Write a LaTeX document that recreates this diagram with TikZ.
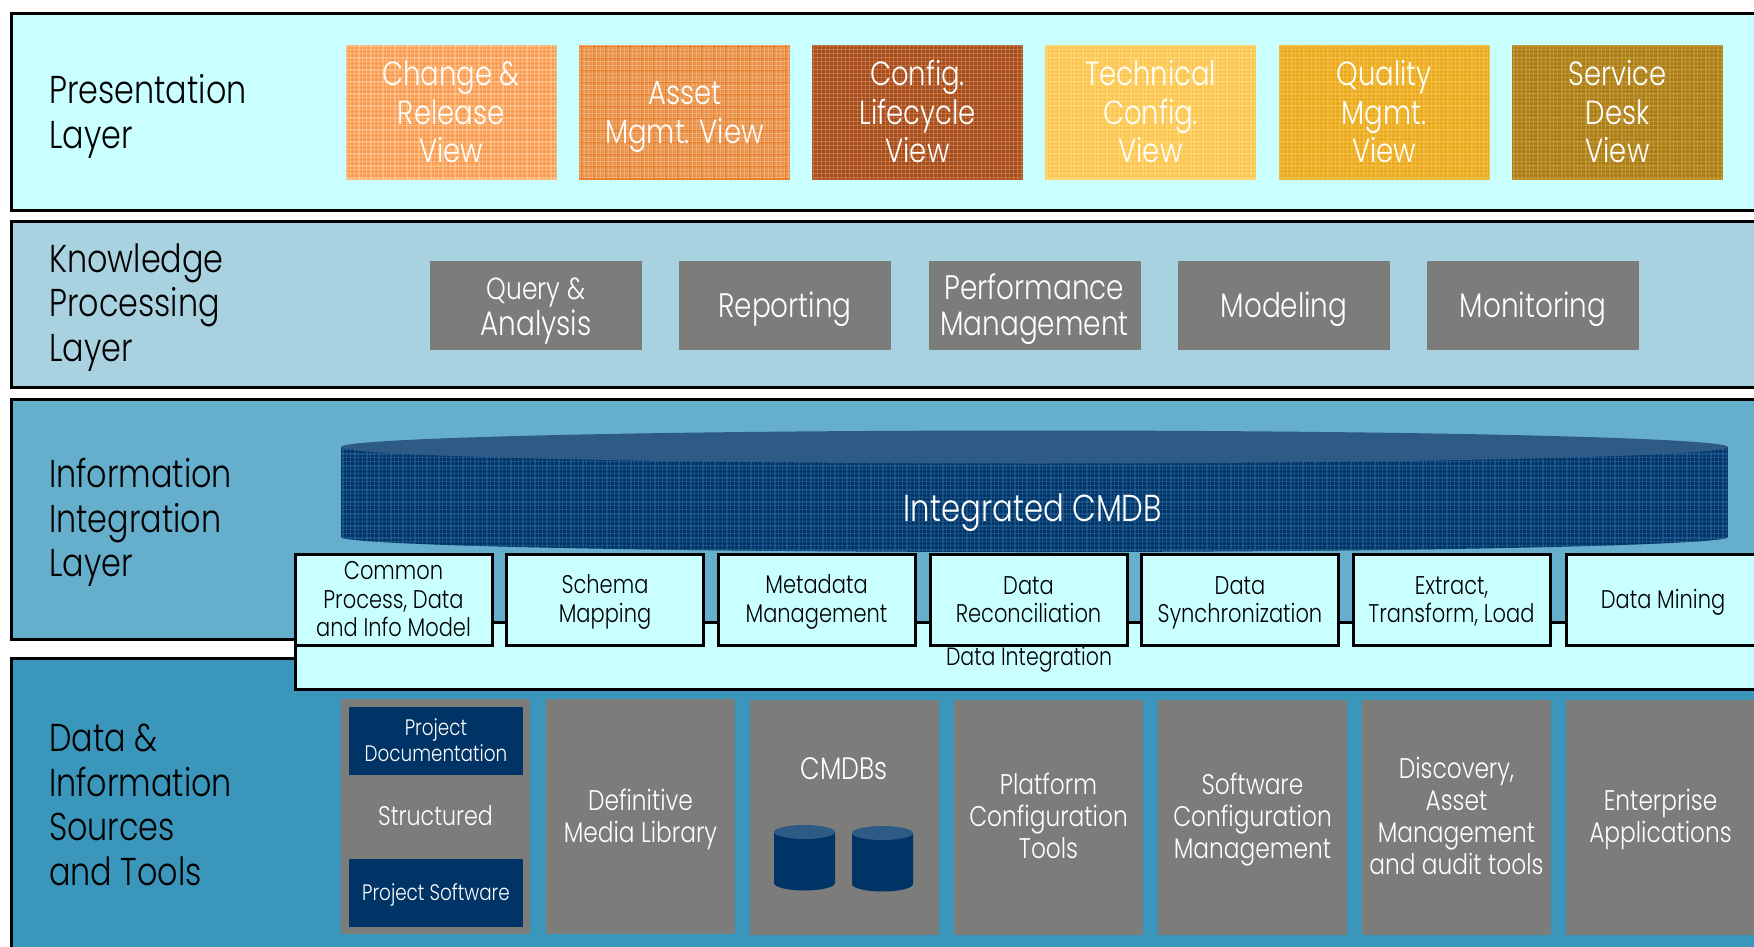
\documentclass[tikz,border=0pt]{standalone}
\usepackage{fontspec}
\setmainfont{Poppins Light}[FakeStretch=0.82]
\definecolor{lpres}{HTML}{C9FFFF}
\definecolor{lknow}{HTML}{A9D2E1}
\definecolor{linfo}{HTML}{66AFCC}
\definecolor{ldata}{HTML}{3A96BA}
\definecolor{gbox}{HTML}{7C7C7A}
\definecolor{navy}{HTML}{003366}
\definecolor{navytop}{HTML}{2E5A86}
\definecolor{aBase}{HTML}{FA9A50}\definecolor{aFine}{HTML}{FFDDB0}\definecolor{aBold}{HTML}{FFD0A0}
\definecolor{bBase}{HTML}{E9934C}\definecolor{bFine}{HTML}{F6C597}\definecolor{bBold}{HTML}{EE6A10}
\definecolor{cBase}{HTML}{A64A1A}\definecolor{cFine}{HTML}{D8A27C}\definecolor{cBold}{HTML}{C06020}
\definecolor{dBase}{HTML}{FCC44E}\definecolor{dFine}{HTML}{FFE88F}\definecolor{dBold}{HTML}{FFDD80}
\definecolor{eBase}{HTML}{EAA81C}\definecolor{eFine}{HTML}{F8D468}\definecolor{eBold}{HTML}{F4C040}
\definecolor{fBase}{HTML}{AE7A12}\definecolor{fFine}{HTML}{C8B468}\definecolor{fBold}{HTML}{C89A30}
\definecolor{gFine}{HTML}{3573A8}\definecolor{gBold}{HTML}{2A6598}
\newcommand{\fs}[2]{\fontsize{#1}{#2}\selectfont}
\newcommand{\tp}{\rule{0pt}{.95em}}
% mesh texture: left x, top y, width, height, fine colour, bold colour
\newcommand{\meshlines}[6]{%
  \foreach \i in {0,4,...,#3} \draw[#5,opacity=.45,line width=1pt] (#1+\i+1,#2) -- (#1+\i+1,#2+#4);
  \foreach \j in {0,4,...,#4} \draw[#5,opacity=.45,line width=1pt] (#1,#2+\j+1) -- (#1+#3,#2+\j+1);
  \foreach \i in {0,12,...,#3} \draw[#6,opacity=.55,line width=1pt] (#1+\i+2,#2) -- (#1+\i+2,#2+#4);
  \foreach \j in {0,12,...,#4} \draw[#6,opacity=.55,line width=1pt] (#1,#2+\j+2) -- (#1+#3,#2+\j+2);
}
\newcommand{\meshview}[4]{%
  \begin{scope}
    \clip (#1,45) rectangle (#1+211,180);
    \fill[#2] (#1,45) rectangle (#1+211,180);
    \meshlines{#1}{45}{211}{135}{#3}{#4}
  \end{scope}}
\tikzset{
  x=1pt,y=-1pt,
  layerbox/.style={draw=black,line width=3pt},
  lab/.style={anchor=west,align=left,text=black,inner sep=0pt,font=\fs{38.8}{44.5}},
  evenstrut/.style={execute at begin node={\rule{0pt}{.95em}},execute at end node={\rule[-.25em]{0pt}{.25em}}},
  viewtext/.style={evenstrut,minimum width=211pt,minimum height=135pt,inner sep=0pt,
    text=white,align=center,font=\fs{33.5}{38.5}},
  proc/.style={evenstrut,fill=gbox,minimum width=212pt,minimum height=89pt,inner sep=0pt,text=white,align=center,font=\fs{34}{36}},
  rowbox/.style={evenstrut,draw=black,line width=3pt,fill=lpres,minimum width=197pt,minimum height=91pt,inner sep=0pt,
    text=black,align=center,font=\fs{25.6}{28.5}},
  src/.style={evenstrut,fill=gbox,minimum width=189pt,minimum height=235pt,inner sep=0pt,text=white,align=center,font=\fs{28.4}{32}},
  navybox/.style={evenstrut,fill=navy,minimum width=174pt,minimum height=68pt,inner sep=0pt,text=white,align=center,font=\fs{22.4}{26}},
  plain/.style={inner sep=0pt,align=center},
  can/.style={fill=navy},
  cantop/.style={fill=navytop}
}
\begin{document}
\begin{tikzpicture}
\useasboundingbox (0,0) rectangle (1754,947);
\clip (0,0) rectangle (1754,947);
\fill[white] (0,0) rectangle (1754,947);
% layers
\draw[layerbox,fill=lpres] (11.5,14) rectangle (1775,210);
\draw[layerbox,fill=lknow] (11.5,221) rectangle (1775,387);
\draw[layerbox,fill=linfo] (11.5,399) rectangle (1775,639.5);
\draw[layerbox,fill=ldata] (11.5,658.5) rectangle (1775,965);
\node[lab] (lp) at (49,116.5) {Presentation\\Layer};
\node[lab] (lk) at (49,307.5) {Knowledge\\Processing\\Layer};
\node[lab] (li) at (49,522.5) {Information\\Integration\\Layer};
\node[lab] (ld) at (49,805) {Data \&\\Information\\Sources\\and Tools};
% views
\meshview{345.5}{aBase}{aFine}{aBold}
\meshview{579}{bBase}{bFine}{bBold}
\meshview{812}{cBase}{cFine}{cBold}
\meshview{1045}{dBase}{dFine}{dBold}
\meshview{1278.5}{eBase}{eFine}{eBold}
\meshview{1512}{fBase}{fFine}{fBold}
\node[viewtext] (v1) at (451,112.5) {\tp Change \&\\Release\\View};
\node[viewtext] (v2) at (684.5,112.5) {\tp Asset\\Mgmt. View};
\node[viewtext] (v3) at (917.5,112.5) {\tp Config.\\Lifecycle\\View};
\node[viewtext] (v4) at (1150.5,112.5) {\tp Technical\\Config.\\View};
\node[viewtext] (v5) at (1384,112.5) {\tp Quality\\Mgmt.\\View};
\node[viewtext] (v6) at (1617.5,112.5) {\tp Service\\Desk\\View};
% processing
\node[proc] (p1) at (536,305.5) {\tp{\fs{30.5}{36}Query \&}\\Analysis};
\node[proc] (p2) at (785,305.5) {Reporting};
\node[proc] (p3) at (1034.5,305.5) {\tp Performance\\Management};
\node[proc] (p4) at (1284,305.5) {Modeling};
\node[proc] (p5) at (1533,305.5) {Monitoring};
% integrated CMDB
\begin{scope}
  \clip (341,447) -- (341,537) arc[start angle=180,end angle=0,x radius=693.5,y radius=15] -- (1728,447) -- cycle;
  \fill[navy] (341,440) rectangle (1728,555);
  \meshlines{341}{440}{1387}{115}{gFine}{gBold}
\end{scope}
\path[cantop] (1034.5,447) ellipse[x radius=693.5,y radius=16.5];
\node[plain,text=white,font=\fs{37.5}{40}] (cmdb) at (1033,513) {Integrated CMDB};
% data integration
\node[draw=black,line width=3pt,fill=lpres,minimum width=1480pt,minimum height=67pt,inner sep=0pt] (di) at (1035,655.5) {};
\node[plain,font=\fs{25}{28}] (dil) at (1029,659) {Data Integration};
\node[rowbox] (r1) at (393.5,599.5) {\tp Common\\Process, Data\\and Info Model};
\node[rowbox] (r2) at (605,599.5) {\tp Schema\\Mapping};
\node[rowbox] (r3) at (816.5,599.5) {\tp Metadata\\Management};
\node[rowbox] (r4) at (1028.5,599.5) {\tp Data\\Reconciliation};
\node[rowbox] (r5) at (1240,599.5) {\tp Data\\Synchronization};
\node[rowbox] (r6) at (1451.5,599.5) {\tp Extract,\\Transform, Load};
\node[rowbox,minimum width=194pt] (r7) at (1663,599.5) {Data Mining};
% sources
\node[src,font=\fs{27}{32}] (s1) at (435.5,816.5) {Structured};
\node[navybox] (n1) at (436,741) {\tp Project\\Documentation};
\node[navybox] (n2) at (436,893) {Project Software};
\node[src] (s2) at (640.5,816.5) {\tp Definitive\\Media Library};
\node[src] (s3) at (844.5,817) {};
\node[plain,text=white,font=\fs{31}{34}] (s3l) at (844,769) {CMDBs};
\node[src] (s4) at (1048.5,817) {\tp Platform\\Configuration\\Tools};
\node[src] (s5) at (1252.5,817) {\tp Software\\Configuration\\Management};
\node[src] (s6) at (1456.5,817) {\tp Discovery,\\Asset\\Management\\and audit tools};
\node[src] (s7) at (1660.5,817) {\tp Enterprise\\Applications};
% small cylinders
\path[can] (774,832) -- (774,883) arc[start angle=180,end angle=0,x radius=30.5,y radius=7.5] -- (835,832) -- cycle;
\path[cantop] (804.5,832) ellipse[x radius=30.5,y radius=7];
\path[can] (852,833) -- (852,884) arc[start angle=180,end angle=0,x radius=30.5,y radius=7.5] -- (913,833) -- cycle;
\path[cantop] (882.5,833) ellipse[x radius=30.5,y radius=7];
\end{tikzpicture}
\end{document}
